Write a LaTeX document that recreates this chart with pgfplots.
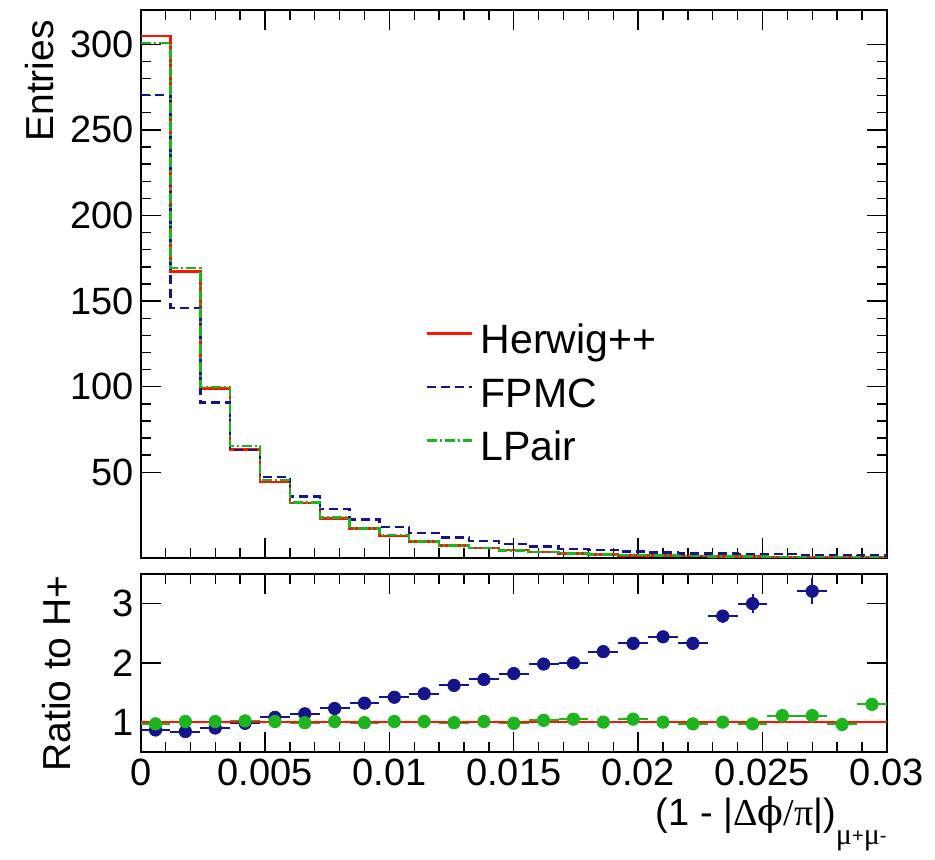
\documentclass[border=0pt]{standalone}
\usepackage{fontspec}
\setmainfont{Liberation Sans}
\newfontfamily\grk{Liberation Serif}
\newfontfamily\grkd{DejaVu Serif}
\usepackage{pgfplots}
\usepackage{pgfplotstable}
\pgfplotsset{compat=1.18}

\definecolor{hred}{RGB}{255,20,0}
\definecolor{fblue}{RGB}{20,20,140}
\definecolor{lgreen}{RGB}{30,180,30}

% histogram contents, left bin edges (last row closes the final bin)
\pgfplotstableread{
x      herwig fpmc  lpair
0.0000 305.0  270.2 300.6
0.0012 167.2  145.8 169.2
0.0024 99.0   90.7  100.0
0.0036 63.4   63.0  65.3
0.0048 44.3   47.2  45.5
0.0060 32.2   35.8  32.4
0.0072 23.1   28.4  23.5
0.0084 17.3   22.5  17.3
0.0096 12.9   18.2  13.3
0.0108 9.7    14.4  9.7
0.0120 7.3    12.0  7.3
0.0132 5.7    10.0  5.7
0.0144 4.5    8.0   4.4
0.0156 3.4    6.6   3.5
0.0168 2.5    5.3   2.6
0.0180 2.1    4.7   2.1
0.0192 1.5    3.8   1.6
0.0204 1.3    3.1   1.3
0.0216 1.1    2.6   1.1
0.0228 0.9    2.5   0.9
0.0240 0.75   2.25  0.73
0.0252 0.6    2.2   0.67
0.0264 0.5    1.6   0.55
0.0276 0.45   1.7   0.43
0.0288 0.35   1.4   0.46
0.0300 0.35   1.4   0.46
}\hist

% ratios to Herwig++, bin centres
\pgfplotstableread{
x      r     e
0.0006 0.867 0.02
0.0018 0.84  0.02
0.0030 0.90  0.03
0.0042 0.98  0.03
0.0054 1.08  0.03
0.0066 1.14  0.04
0.0078 1.23  0.04
0.0090 1.32  0.05
0.0102 1.42  0.05
0.0114 1.48  0.06
0.0126 1.62  0.06
0.0138 1.72  0.07
0.0150 1.82  0.07
0.0162 1.98  0.08
0.0174 2.00  0.08
0.0186 2.19  0.09
0.0198 2.33  0.09
0.0210 2.44  0.10
0.0222 2.33  0.10
0.0234 2.79  0.11
0.0246 3.00  0.16
0.0270 3.21  0.22
}\rfpmc

\pgfplotstableread{
x      r    e
0.0006 0.97 0.02
0.0018 1.01 0.02
0.0030 1.01 0.02
0.0042 1.02 0.03
0.0054 1.01 0.03
0.0066 0.99 0.03
0.0078 1.01 0.03
0.0090 0.99 0.03
0.0102 1.01 0.04
0.0114 1.01 0.04
0.0126 0.99 0.04
0.0138 1.01 0.04
0.0150 0.98 0.05
0.0162 1.03 0.05
0.0174 1.05 0.05
0.0186 1.00 0.05
0.0198 1.05 0.06
0.0210 1.00 0.06
0.0222 0.97 0.06
0.0234 1.00 0.06
0.0246 0.97 0.07
0.0258 1.11 0.07
0.0270 1.11 0.08
0.0282 0.96 0.08
0.0294 1.30 0.11
}\rlpair

\pgfplotsset{
  rootax/.style={
    scale only axis, width=373.15pt,
    xmin=0, xmax=0.03,
    tick align=inside,
    major tick length=10pt, minor tick length=5pt,
    axis line style={line width=1pt},
    every tick/.style={black, line width=0.7pt},
    tick label style={font=\fontsize{19}{22}\selectfont},
    /pgf/number format/assume math mode=true,
    xtick={0,0.005,0.01,0.015,0.02,0.025,0.03},
    minor x tick num=4,
    scaled x ticks=false,
  },
}

\begin{document}
\begin{tikzpicture}
\useasboundingbox (0,0) rectangle (467.5pt,-429.5pt);

\begin{axis}[rootax,
  at={(70.3pt,-278.95pt)}, anchor=south west,
  height=273.95pt,
  ymin=0, ymax=320,
  ytick={50,100,150,200,250,300},
  minor y tick num=4,
  xticklabels={},
  no marks,
  ylabel={Entries},
  ylabel style={at={(axis description cs:-0.1348,0.982)}, anchor=east, inner sep=0pt, font=\fontsize{19.5}{22}\selectfont},
  legend style={draw=none, fill=none, at={(0.3811,0.2937)}, anchor=west,
    inner sep=0pt, row sep=6.75pt, font=\fontsize{20.5}{24}\selectfont,
    nodes={inner sep=0pt, text height=15pt, text depth=5pt}},
  legend cell align=left,
  legend image code/.code={\draw[#1] (0pt,5pt) -- (22.5pt,5pt);},
]
\addplot[const plot mark left, hred, line width=1.2pt] table[x=x,y=herwig]{\hist};
\addplot[const plot mark left, fblue, line width=1.2pt, dash pattern=on 4.5pt off 2.5pt] table[x=x,y=fpmc]{\hist};
\addplot[const plot mark left, lgreen, line width=1.2pt, dash pattern=on 5pt off 1.5pt on 1pt off 1.5pt] table[x=x,y=lpair]{\hist};
\legend{\hspace{4pt}Herwig++,\hspace{4pt}FPMC,\hspace{4pt}LPair}
\end{axis}

\begin{axis}[rootax,
  at={(70.3pt,-375.85pt)}, anchor=south west,
  height=88.85pt,
  ymin=0.5, ymax=3.5,
  ytick={1,2,3},
  minor y tick num=0,
  xticklabels={0,0.005,0.01,0.015,0.02,0.025,0.03},
  ylabel={Ratio to H+},
  ylabel style={at={(axis description cs:-0.112,0.994)}, anchor=east, inner sep=0pt, font=\fontsize{19.5}{22}\selectfont},
  xlabel={(1 - |{\grk Δ}{\grkd ϕ}{\grk /π}|)\raisebox{-10pt}{\fontsize{15}{17}\selectfont{\grk μ}\raisebox{1pt}{\fontsize{10}{12}\selectfont+}{\grk μ}\raisebox{1pt}{\fontsize{10}{12}\selectfont-}}},
  xlabel style={at={(axis description cs:1,0)}, anchor=north east, inner sep=0pt, yshift=-22pt, font=\fontsize{19}{22}\selectfont},
]
\addplot[only marks, mark=*, mark size=3.1pt, fblue, mark options={draw=fblue, fill=fblue},
  error bars/.cd, x dir=both, x fixed=0.0006, y dir=both, y explicit,
  error mark=none, error bar style={line width=1pt}]
  table[x=x, y=r, y error=e]{\rfpmc};
\addplot[only marks, mark=*, mark size=3.1pt, lgreen, mark options={draw=lgreen, fill=lgreen},
  error bars/.cd, x dir=both, x fixed=0.0006, y dir=both, y explicit,
  error mark=none, error bar style={line width=1pt}]
  table[x=x, y=r, y error=e]{\rlpair};
\addplot[hred, line width=0.8pt] coordinates {(0,1) (0.03,1)};
\end{axis}
\end{tikzpicture}
\end{document}
